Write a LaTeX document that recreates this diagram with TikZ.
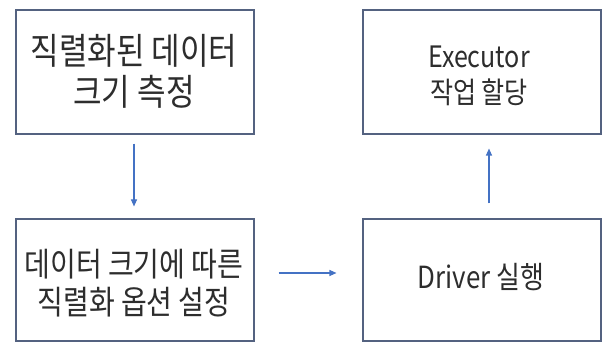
\documentclass[tikz,border=0pt]{standalone}
\usepackage{fontspec}
\newfontfamily\krfont[FakeStretch=0.85]{Noto Sans CJK KR}
\usetikzlibrary{arrows.meta}
\definecolor{boxline}{RGB}{84,98,128}
\definecolor{arrowblue}{RGB}{68,114,196}
\definecolor{txt}{RGB}{45,45,45}
\tikzset{
  stepbox/.style={draw=boxline, line width=1.1pt, fill=white, minimum width=238pt, minimum height=124pt, inner sep=0pt},
  label/.style={inner sep=0pt, align=center, text=txt},
  flow/.style={draw=arrowblue, line width=1.1pt, -{Triangle[length=7pt,width=6pt]}}
}
\begin{document}
\begin{tikzpicture}[x=1pt,y=-1pt]
\useasboundingbox[fill=white] (0,0) rectangle (606,342);
\node[stepbox] (tl) at (135,72) {};
\node[stepbox] (tr) at (482,72) {};
\node[stepbox, minimum height=122pt] (bl) at (135,280) {};
\node[stepbox, minimum height=122pt] (br) at (482,280) {};
\node[label, font=\krfont\fontsize{36.5}{41}\selectfont] (tltext) at (134,71) {직렬화된 데이터\\크기 측정};
\node[label, font=\krfont\fontsize{29.5}{36}\selectfont] (trtext) at (479,76) {Executor\\작업 할당};
\node[label, font=\krfont\fontsize{33}{38}\selectfont] (bltext) at (134,283) {데이터 크기에 따른\\직렬화 옵션 설정};
\node[label, font=\krfont\fontsize{30.5}{36}\selectfont] (brtext) at (481,277) {Driver 실행};
\draw[flow, shorten <=9pt, shorten >=12pt] ([xshift=-1pt]tl.south) -- ([xshift=-1pt]bl.north);
\draw[flow, shorten <=24pt, shorten >=26pt] ([yshift=7pt]bl.east) -- ([yshift=7pt]br.west);
\draw[flow, shorten <=15pt, shorten >=14pt] ([xshift=7pt]br.north) -- ([xshift=7pt]tr.south);
\end{tikzpicture}
\end{document}
